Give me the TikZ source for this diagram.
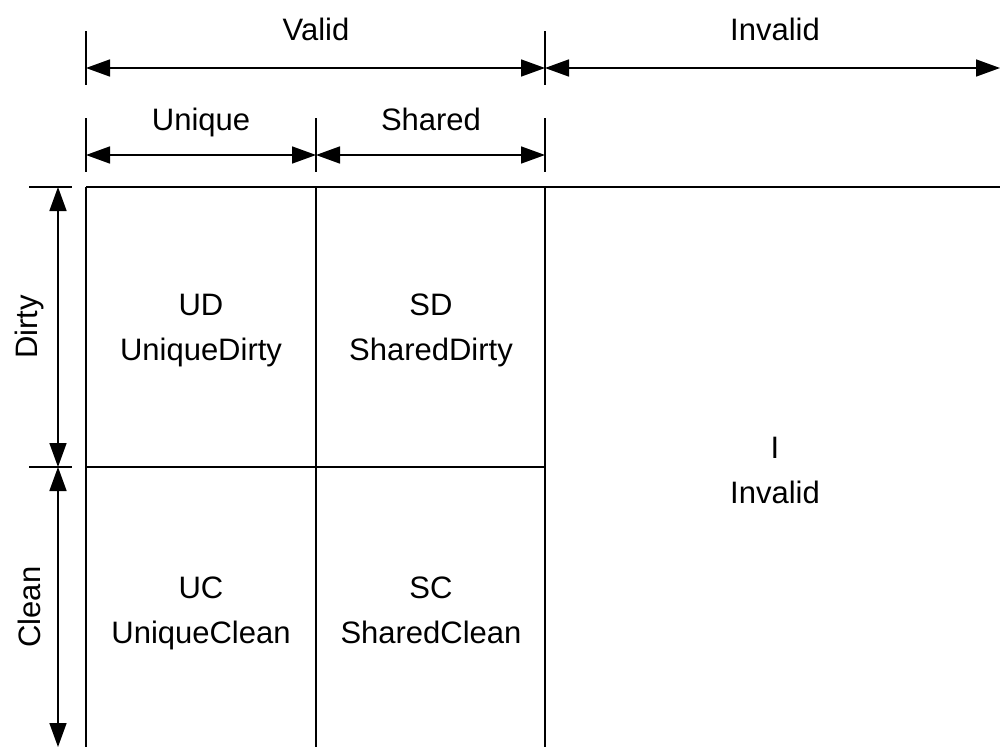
\documentclass[tikz,border=0pt]{standalone}
\usepackage{fontspec}
\setmainfont{Liberation Sans}
\usetikzlibrary{arrows.meta}
\begin{document}
\begin{tikzpicture}[x=1pt,y=-1pt,
  line width=1.6pt,
  dim/.style={{Triangle[length=24pt,width=17pt]}-{Triangle[length=24pt,width=17pt]}},
  lbl/.style={font=\fontsize{31}{37}\selectfont,inner sep=0pt,align=center},
  toplbl/.style={lbl,anchor=base},
  cell/.style={font=\fontsize{31}{45}\selectfont,inner sep=0pt,align=center}]
\useasboundingbox (0,0) rectangle (1000,747);

% reference points of the grid
\coordinate (g00) at (86,187);
\coordinate (g10) at (316,187);
\coordinate (g20) at (545,187);
\coordinate (g30) at (1000,187);
\coordinate (g01) at (86,467);
\coordinate (g11) at (316,467);
\coordinate (g21) at (545,467);
\coordinate (g02) at (86,747);
\coordinate (g12) at (316,747);
\coordinate (g22) at (545,747);

% grid lines
\draw (g00) -- (g30);
\draw (g01) -- (g21);
\draw (g00) -- (g02);
\draw (g10) -- (g12);
\draw (g20) -- (g22);

% extension ticks
\draw (86,31) -- (86,85);
\draw (545,31) -- (545,85);
\draw (86,118) -- (86,172);
\draw (316,118) -- (316,172);
\draw (545,118) -- (545,172);
\draw (29,187) -- (72,187);
\draw (29,467) -- (72,467);

% dimension arrow end points
\coordinate (vA) at (86,68);
\coordinate (vB) at (545,68);
\coordinate (vC) at (1000,68);
\coordinate (uA) at (86,155);
\coordinate (uB) at (316,155);
\coordinate (uC) at (545,155);
\coordinate (dA) at (58,187);
\coordinate (dB) at (58,467);
\coordinate (dC) at (58,747);

\draw[dim] (vA) -- (vB);
\draw[dim] (vB) -- (vC);
\draw[dim] (uA) -- (uB);
\draw[dim] (uB) -- (uC);
\draw[dim] (dA) -- (dB);
\draw[dim] (dB) -- (dC);

% dimension labels
\node[toplbl] (tValid) at (316,40) {Valid};
\node[toplbl] (tInvalid) at (775,40) {Invalid};
\node[toplbl] (tUnique) at (201,130) {Unique};
\node[toplbl] (tShared) at (431,130) {Shared};
\node[lbl,rotate=90] (tDirty) at (29,327) {Dirty};
\node[lbl,rotate=90] (tClean) at (29,607) {Clean};

% cell labels
\node[cell] (UD) at (201,331) {UD\\UniqueDirty};
\node[cell] (SD) at (431,330) {SD\\SharedDirty};
\node[cell] (UC) at (201,613) {UC\\UniqueClean};
\node[cell] (SC) at (431,610) {SC\\SharedClean};
\node[cell] (I) at (775,470) {I\\Invalid};
\end{tikzpicture}
\end{document}
